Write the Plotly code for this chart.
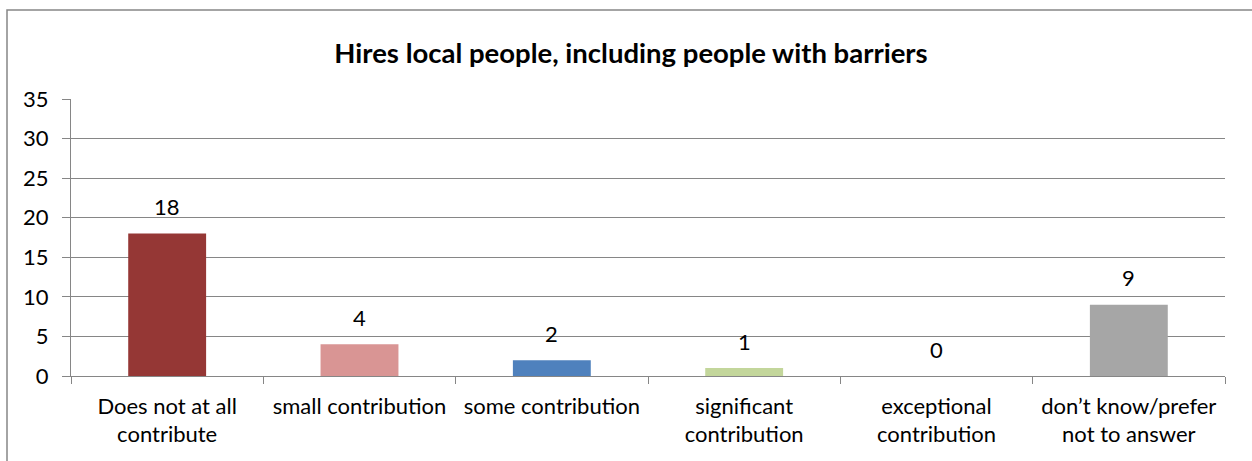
import plotly.graph_objects as go

categories = [
    "Does not at all<br>contribute",
    "small contribution",
    "some contribution",
    "significant<br>contribution",
    "exceptional<br>contribution",
    "don’t know/prefer<br>not to answer",
]
counts = [18, 4, 2, 1, 0, 9]
bar_colors = ["#953735", "#D99594", "#4F81BD", "#C3D69B", "#8064A2", "#A6A6A6"]

W, H = 1252, 461
L, R, T, B = 71, 27, 99, 85
GRID = "#868686"
FONT = "Lato, 'Open Sans', sans-serif"

fig = go.Figure(
    go.Bar(
        x=categories,
        y=counts,
        marker=dict(color=bar_colors, line=dict(width=0)),
        showlegend=False,
        hoverinfo="skip",
    )
)

# value labels above each bar
for cat, val in zip(categories, counts):
    fig.add_annotation(
        x=cat, y=val, text=str(val), showarrow=False,
        yshift=27, font=dict(size=22, color="#000000", family=FONT),
    )

# frame around the chart
pw, ph = W - L - R, H - T - B
fig.add_shape(
    type="rect", xref="paper", yref="paper",
    x0=(7 - L) / pw, x1=1.2, y0=-0.6, y1=(H - B - 10) / ph,
    line=dict(color=GRID, width=1.5), fillcolor="rgba(0,0,0,0)", layer="below",
)

fig.update_layout(
    width=W, height=H,
    margin=dict(l=L, r=R, t=T, b=B, pad=0),
    paper_bgcolor="white", plot_bgcolor="white",
    bargap=0.595,
    title=dict(
        text="<b>Hires local people, including people with barriers</b>",
        x=0.504, xanchor="center", y=1 - 53 / H, yanchor="middle",
        font=dict(size=27.5, color="#000000", family=FONT),
    ),
    font=dict(family=FONT, color="#000000"),
)
fig.update_xaxes(
    showgrid=False, showline=True, linecolor=GRID, linewidth=1.2,
    ticks="outside", tickson="boundaries", ticklen=7, tickcolor=GRID, tickwidth=1.2,
    tickfont=dict(size=22, family=FONT, color="#000000"),
    ticklabelstandoff=10,
    fixedrange=True,
)
fig.update_yaxes(
    range=[0, 35], dtick=5, showgrid=True, gridcolor=GRID, gridwidth=1.2,
    showline=True, linecolor=GRID, linewidth=1.2,
    ticks="outside", ticklen=8, tickcolor=GRID, tickwidth=1.2,
    tickfont=dict(size=22, family=FONT, color="#000000"),
    ticklabelstandoff=9,
    zeroline=False, fixedrange=True,
)

fig.write_html("out.html")
